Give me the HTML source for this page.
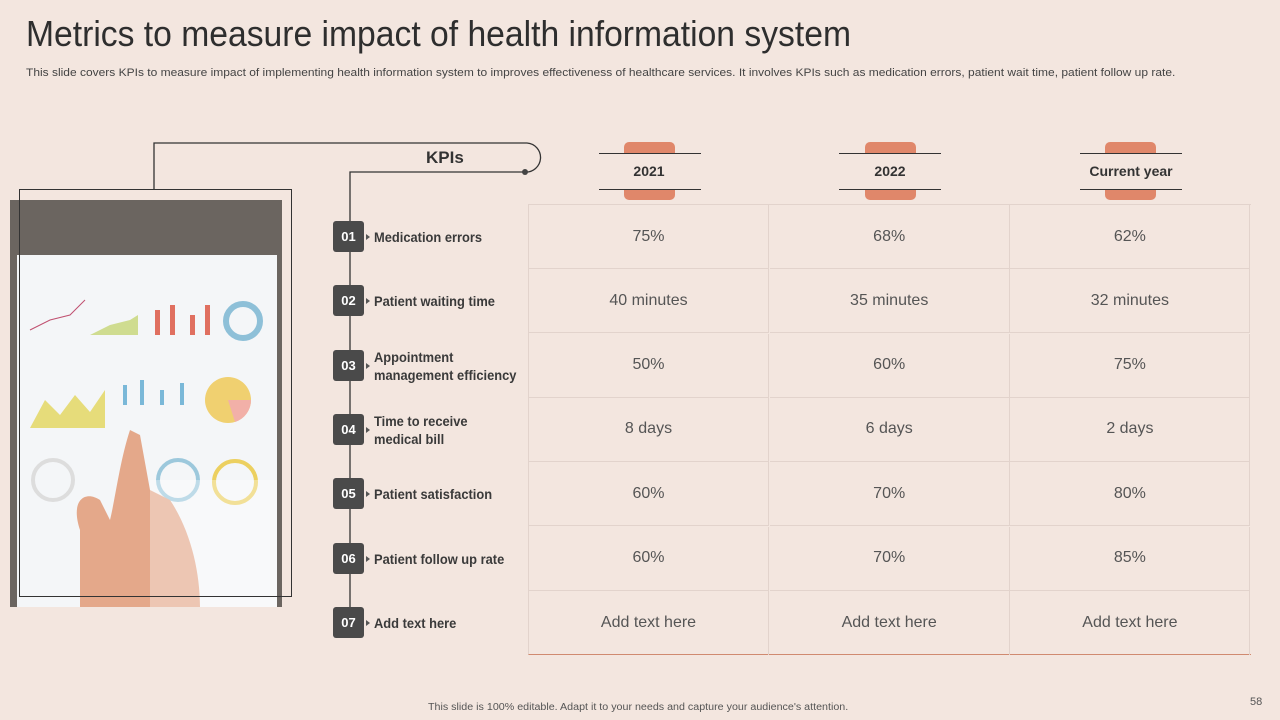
<!DOCTYPE html>
<html><head><meta charset="utf-8"><style>
body{margin:0;width:1280px;height:720px;background:#f3e6df;font-family:"Liberation Sans",sans-serif;position:relative;overflow:hidden;color:#333}
.abs{position:absolute}
h1{position:absolute;left:26px;top:13px;margin:0;font-size:36px;font-weight:normal;color:#2e2e2e;white-space:nowrap;transform:scaleX(0.935);transform-origin:left}
.sub{left:26px;top:67px;font-size:11px;color:#444;white-space:nowrap;transform:scaleX(1.09);transform-origin:left}
.num{position:absolute;left:333px;width:31px;height:31px;background:#4a4a4a;color:#fff;border-radius:3px;font-weight:bold;font-size:13px;display:flex;align-items:center;justify-content:center}
.tri{position:absolute;left:366px;width:0;height:0;border-left:4px solid #555;border-top:3px solid transparent;border-bottom:3px solid transparent}
.kpi{position:absolute;left:374px;font-weight:bold;font-size:14px;color:#3a3a3a;line-height:18px;transform:scaleX(0.92);transform-origin:left}
.cell{position:absolute;width:240px;height:64px;display:flex;align-items:center;justify-content:center;font-size:16px;color:#555;border-right:1px solid #e2d3cc;border-bottom:1px solid #e2d3cc;box-sizing:border-box}
.tab{position:absolute;top:142px;width:51px;height:58px;background:#e0876a;border-radius:5px}
.hl{position:absolute;height:1px;width:102px;background:#333}
.hd{position:absolute;top:153px;height:36px;width:140px;display:flex;align-items:center;justify-content:center;font-weight:bold;font-size:14px;background:#f3e6df;color:#333}
</style></head><body>
<h1>Metrics to measure impact of health information system</h1>
<div class="abs sub">This slide covers KPIs to measure impact of implementing health information system to improves effectiveness of healthcare services. It involves KPIs such as medication errors, patient wait time, patient follow up rate.</div>

<svg class="abs" style="left:0;top:0" width="1280" height="720">
<path d="M154 189 V143 H527 A14.5 14.5 0 0 1 525 172 H350 V622" fill="none" stroke="#333" stroke-width="1.3"/>
<circle cx="525" cy="172" r="3" fill="#444"/>
</svg>

<svg class="abs" style="left:10px;top:200px" width="272" height="407">
<rect width="272" height="407" fill="#6b6560"/>
<rect x="7" y="55" width="260" height="352" fill="#f4f6f8"/>
<polyline points="20,130 40,120 60,115 75,100" fill="none" stroke="#c05070"/>
<polygon points="80,135 100,125 120,120 128,115 128,135" fill="#cfdc90"/>
<g fill="#e07060"><rect x="145" y="110" width="5" height="25"/><rect x="160" y="105" width="5" height="30"/><rect x="180" y="115" width="5" height="20"/><rect x="195" y="105" width="5" height="30"/></g>
<circle cx="233" cy="121" r="17" fill="none" stroke="#8ec0d8" stroke-width="6"/>
<polygon points="20,228 35,200 50,215 65,195 80,212 95,190 95,228" fill="#e6dc7a"/>
<g fill="#7ab8d8"><rect x="113" y="185" width="4" height="20"/><rect x="130" y="180" width="4" height="25"/><rect x="150" y="190" width="4" height="15"/><rect x="170" y="183" width="4" height="22"/></g>
<circle cx="218" cy="200" r="23" fill="#f0d070"/>
<path d="M218 200 L241 200 A23 23 0 0 1 225 222 Z" fill="#f2b0a8"/>
<circle cx="43" cy="280" r="20" fill="none" stroke="#ddd" stroke-width="4"/>
<circle cx="168" cy="280" r="20" fill="none" stroke="#9cc8dc" stroke-width="4"/>
<circle cx="225" cy="282" r="21" fill="none" stroke="#ecd060" stroke-width="4"/>
<path d="M120 230 C110 260 105 300 100 320 L90 300 C75 290 60 300 70 330 L70 407 L190 407 C190 370 180 330 160 300 L140 290 L130 235 Z" fill="#e4a88a"/>
<rect x="140" y="280" width="127" height="127" fill="#fff" opacity="0.35"/>
</svg>
<div class="abs" style="left:19px;top:189px;width:273px;height:408px;border:1px solid #333;box-sizing:border-box"></div>

<div class="abs" style="left:426px;top:148px;font-weight:bold;font-size:17px">KPIs</div>

<div class="tab" style="left:624px"></div>
<div class="tab" style="left:865px"></div>
<div class="tab" style="left:1105px"></div>
<div class="hd" style="left:579px">2021</div>
<div class="hd" style="left:820px">2022</div>
<div class="hd" style="left:1061px">Current year</div>
<div class="hl" style="left:599px;top:153px"></div><div class="hl" style="left:599px;top:189px"></div>
<div class="hl" style="left:839px;top:153px"></div><div class="hl" style="left:839px;top:189px"></div>
<div class="hl" style="left:1080px;top:153px"></div><div class="hl" style="left:1080px;top:189px"></div>

<div class="abs" style="left:528px;top:204px;width:723px;height:451px;border-top:1px solid #e2d3cc;border-left:1px solid #e2d3cc;border-bottom:1px solid #d08a70;box-sizing:border-box"></div>
<div id="rows"></div>

<div class="abs" style="left:428px;top:702px;font-size:10px;color:#555;white-space:nowrap;transform:scaleX(1.07);transform-origin:left">This slide is 100% editable.  Adapt it to your needs and capture your audience's attention.</div>
<div class="abs" style="left:1250px;top:696px;font-size:11px;color:#555">58</div>

<script>
const kpis=["Medication errors","Patient waiting time","Appointment<br>management efficiency","Time to receive<br>medical bill","Patient satisfaction","Patient follow up rate","Add text here"];
const v2021=["75%","40 minutes","50%","8 days","60%","60%","Add text here"];
const v2022=["68%","35 minutes","60%","6 days","70%","70%","Add text here"];
const vCur=["62%","32 minutes","75%","2 days","80%","85%","Add text here"];
const cols=[v2021,v2022,vCur];
const root=document.getElementById('rows');
kpis.forEach((k,i)=>{
  const top=205+i*64.3, cy=top+32;
  const n=document.createElement('div');n.className='num';n.style.top=(cy-16)+'px';n.textContent='0'+(i+1);
  
  
  root.appendChild(n);
  const t=document.createElement('div');t.className='tri';t.style.top=(cy-3)+'px';root.appendChild(t);
  const l=document.createElement('div');l.className='kpi';l.innerHTML=k;
  const lines=k.includes('<br>')?2:1;l.style.top=(cy-9*lines)+'px';
  
  
  root.appendChild(l);
  cols.forEach((c,j)=>{
    const d=document.createElement('div');d.className='cell';
    d.style.left=(529+j*240.7)+'px';d.style.top=top+'px';
    if(i==6)d.style.borderBottom='none';
    d.textContent=c[i];
    
    
    root.appendChild(d);
  });
});
</script>
</body></html>
